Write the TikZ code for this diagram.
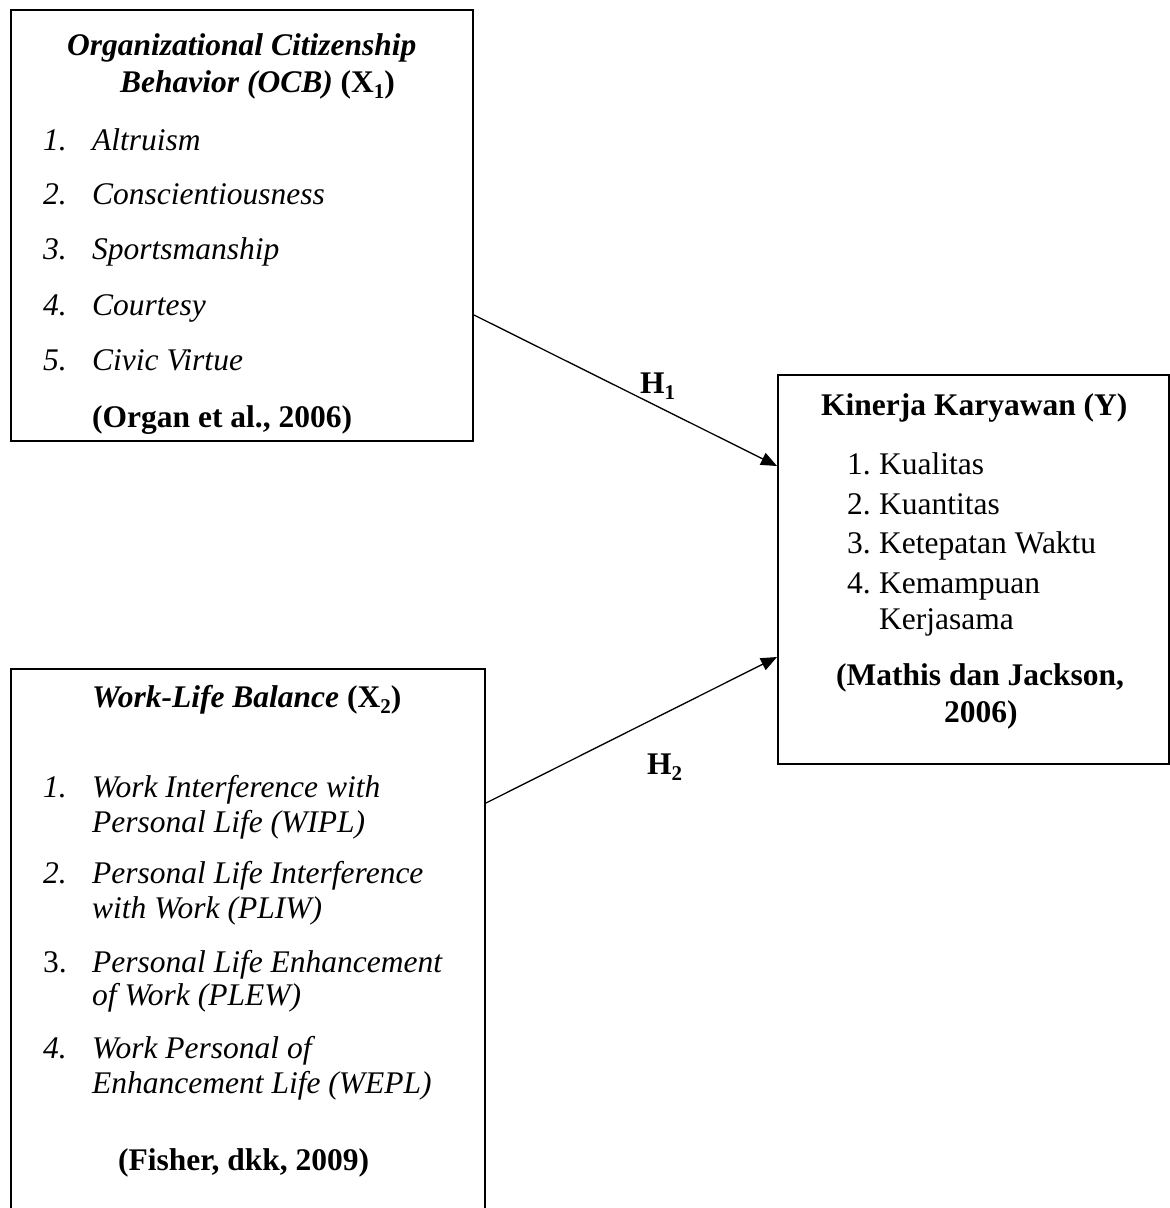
\documentclass[tikz,border=0pt]{standalone}
\usepackage{fontspec}
\setmainfont{Liberation Serif}
\usetikzlibrary{arrows.meta}
\newcommand{\mysub}[1]{\raisebox{-0.22em}{\fontsize{21}{21}\selectfont #1}}
\begin{document}
\begin{tikzpicture}[x=1pt,y=-1pt,
  every node/.style={font=\fontsize{31.5}{38}\selectfont},
  box/.style={draw,line width=2pt,anchor=north west,inner sep=0pt},
  lbl/.style={anchor=base west,inner sep=0pt},
  arr/.style={line width=1.3pt,-{Triangle[length=16pt,width=13pt]}}]
\useasboundingbox (0,0) rectangle (1170,1208);
\clip (0,0) rectangle (1170,1208);
% boxes
\node[box,minimum width=462pt,minimum height=431pt] (ocb) at (10,9) {};
\node[box,minimum width=391pt,minimum height=389pt] (kin) at (777,374) {};
\node[box,minimum width=474pt,minimum height=560pt] (wlb) at (10,668) {};
% box 1 text
\node[lbl] (o0) at (67,55) {\textbf{\textit{Organizational Citizenship}}};
\node[lbl] (o1) at (120,92) {\textbf{\textit{Behavior (OCB)} (X\mysub{1})}};
\node[lbl] (n1) at (43,150) {\textit{1.}};
\node[lbl] (a1) at (92,150) {\textit{Altruism}};
\node[lbl] (n2) at (43,204) {\textit{2.}};
\node[lbl] (a2) at (92,204) {\textit{Conscientiousness}};
\node[lbl] (n3) at (43,259) {\textit{3.}};
\node[lbl] (a3) at (92,259) {\textit{Sportsmanship}};
\node[lbl] (n4) at (43,315) {\textit{4.}};
\node[lbl] (a4) at (92,315) {\textit{Courtesy}};
\node[lbl] (n5) at (43,370) {\textit{5.}};
\node[lbl] (a5) at (92,370) {\textit{Civic Virtue}};
\node[lbl] (o2) at (92,427) {\textbf{(Organ et al., 2006)}};
% box Y text
\node[lbl] (k0) at (821,415) {\textbf{Kinerja Karyawan (Y)}};
\node[lbl] (kn1) at (847,474) {1.};
\node[lbl] (k1) at (879,474) {Kualitas};
\node[lbl] (kn2) at (847,514) {2.};
\node[lbl] (k2) at (879,514) {Kuantitas};
\node[lbl] (kn3) at (847,553) {3.};
\node[lbl] (k3) at (879,553) {Ketepatan Waktu};
\node[lbl] (kn4) at (847,593) {4.};
\node[lbl] (k4) at (879,593) {Kemampuan};
\node[lbl] (k5) at (879,629) {Kerjasama};
\node[lbl] (k6) at (836,685) {\textbf{(Mathis dan Jackson,}};
\node[lbl] (k7) at (944,722) {\textbf{2006)}};
% box 3 text
\node[lbl] (w0) at (92,707) {\textbf{\textit{Work-Life Balance} (X\mysub{2})}};
\node[lbl] (wn1) at (43,797) {\textit{1.}};
\node[lbl] (w1a) at (92,797) {\textit{Work Interference with}};
\node[lbl] (w1b) at (92,832) {\textit{Personal Life (WIPL)}};
\node[lbl] (wn2) at (43,883) {\textit{2.}};
\node[lbl] (w2a) at (92,883) {\textit{Personal Life Interference}};
\node[lbl] (w2b) at (92,918) {\textit{with Work (PLIW)}};
\node[lbl] (wn3) at (43,972) {3.};
\node[lbl] (w3a) at (92,972) {\textit{Personal Life Enhancement}};
\node[lbl] (w3b) at (92,1005) {\textit{of Work (PLEW)}};
\node[lbl] (wn4) at (43,1058) {\textit{4.}};
\node[lbl] (w4a) at (92,1058) {\textit{Work Personal of}};
\node[lbl] (w4b) at (92,1093) {\textit{Enhancement Life (WEPL)}};
\node[lbl] (w5) at (118,1170) {\textbf{(Fisher, dkk, 2009)}};
% connectors
\draw[arr] ([yshift=127pt]ocb.south east) -- ([yshift=-92pt]kin.north west);
\draw[arr] ([yshift=-135pt]wlb.north east) -- ([yshift=108pt]kin.south west);
\node[lbl] (h1) at (640,393) {\textbf{H\mysub{1}}};
\node[lbl] (h2) at (647,774) {\textbf{H\mysub{2}}};
\end{tikzpicture}
\end{document}
